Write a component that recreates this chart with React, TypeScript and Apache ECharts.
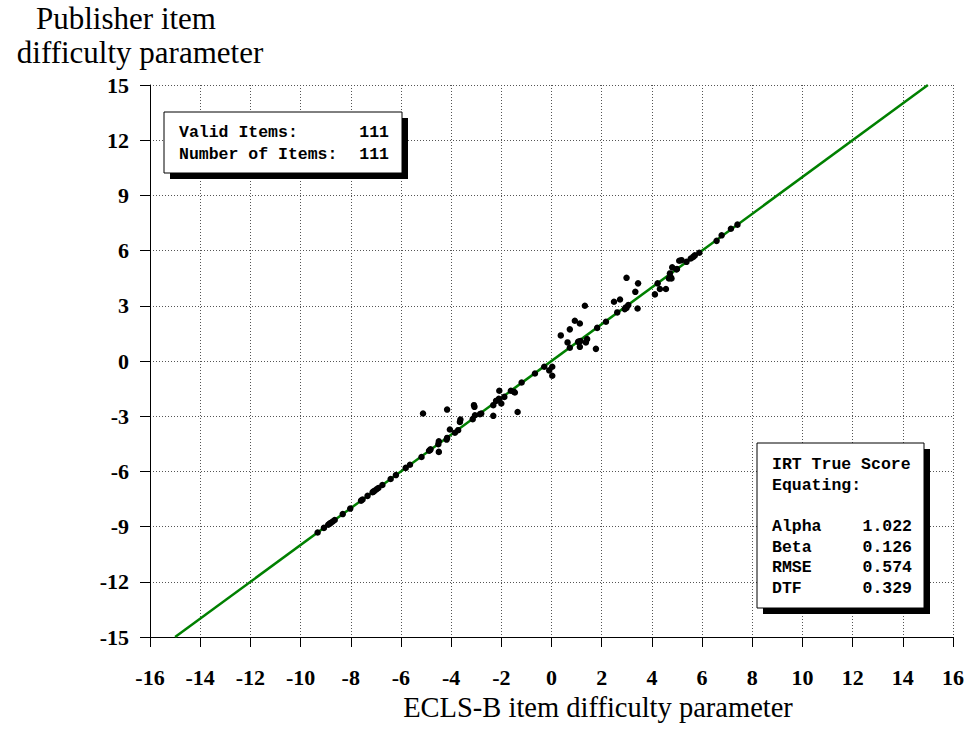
import React, { useEffect, useRef } from "react";
import * as echarts from "echarts";

const xTicks = { min: -16, max: 16, interval: 2 };
const yTicks = { min: -15, max: 15, interval: 3 };

const identityLine: [number, number][] = [
  [-15, -15],
  [15, 15],
];

const itemsLower: [number, number][] = [
  [-9.32, -9.32], [-9.07, -9.07], [-8.9, -8.9], [-8.85, -8.85], [-8.8, -8.8], [-8.72, -8.72],
  [-8.64, -8.64], [-8.32, -8.32], [-8.02, -8.02], [-7.59, -7.59], [-7.53, -7.53],
  [-7.33, -7.33], [-7.13, -7.13], [-7.1, -7.1], [-7.05, -7.05], [-6.97, -6.97], [-6.9, -6.9],
  [-6.74, -6.74], [-6.41, -6.41], [-6.2, -6.2], [-5.81, -5.81], [-5.64, -5.64],
  [-5.18, -5.22], [-4.88, -4.88], [-4.85, -4.85], [-4.82, -4.8], [-4.49, -4.94],
  [-4.51, -4.52], [-4.49, -4.36], [-4.18, -4.27], [-4.16, -4.18], [-4.05, -3.72],
  [-3.85, -3.9], [-3.72, -3.76], [-3.65, -3.31], [-3.63, -3.18], [-3.14, -3.16],
  [-3.05, -2.95], [-2.85, -2.89], [-2.8, -2.85], [-3.09, -2.4], [-3.07, -2.49],
  [-2.32, -2.98], [-2.32, -2.4], [-2.21, -2.17], [-2.1, -2.05], [-2.08, -2.09],
  [-2.08, -1.62], [-2.0, -2.31], [-1.88, -1.95], [-1.62, -1.62], [-1.5, -1.67],
  [-1.46, -1.71], [-1.35, -2.77], [-1.19, -1.17], [-0.66, -0.68], [-0.29, -0.31],
  [-0.09, -0.51], [0.03, -0.31], [0.03, -0.8], [-5.12, -2.85], [-4.16, -2.64],
];

const itemsUpper: [number, number][] = [
  [0.37, 1.39], [0.64, 1.01], [0.73, 1.72], [0.73, 0.72], [0.93, 2.19], [1.13, 2.04],
  [1.06, 1.04], [1.1, 1.06], [1.16, 1.09], [1.13, 0.77], [1.37, 1.01], [1.42, 1.19],
  [1.33, 3.0], [1.77, 0.66], [1.82, 1.8], [2.17, 2.13], [2.49, 3.22], [2.73, 3.34],
  [2.62, 2.64], [2.92, 2.82], [2.95, 2.9], [2.99, 2.89], [3.06, 3.04], [3.34, 3.76],
  [3.43, 2.85], [2.99, 4.52], [3.45, 4.22], [4.12, 3.62], [4.23, 4.22], [4.32, 3.91],
  [4.56, 3.91], [4.68, 4.49], [4.75, 4.55], [4.78, 4.49], [4.72, 4.76], [4.81, 5.09],
  [4.98, 4.98], [5.0, 5.0], [5.09, 5.45], [5.18, 5.48], [5.38, 5.39], [5.55, 5.57],
  [5.65, 5.66], [5.71, 5.74], [5.89, 5.88], [6.58, 6.53], [6.78, 6.83], [7.15, 7.19],
  [7.41, 7.41],
];

const box1Labels = ["Valid Items:", "Number of Items:"];
const box1Values = ["111", "111"];
const box2Title = ["IRT True Score", "Equating:"];
const box2Labels = ["Alpha", "Beta", "RMSE", "DTF"];
const box2Values = ["1.022", "0.126", "0.574", "0.329"];

const MONO = "'Liberation Mono', 'Courier New', monospace";
const SERIF = "'Liberation Serif', 'Times New Roman', serif";

function boxText(text: string, x: number, y: number, align: "left" | "right") {
  return {
    type: "text",
    x,
    y,
    z: 20,
    style: {
      text,
      fill: "#000",
      font: `bold 16.5px ${MONO}`,
      textAlign: align,
      textVerticalAlign: "middle",
    },
  };
}

export default function App() {
  const ref = useRef<HTMLDivElement>(null);
  useEffect(() => {
    if (!ref.current) return;
    const chart = echarts.init(ref.current, undefined, { renderer: "svg" });
    const graphics: any[] = [
      { type: "text", x: 126, y: 18, style: { text: "Publisher item", font: `31px ${SERIF}`, fill: "#000", textAlign: "center", textVerticalAlign: "middle" } },
      { type: "text", x: 140, y: 52, style: { text: "difficulty parameter", font: `31px ${SERIF}`, fill: "#000", textAlign: "center", textVerticalAlign: "middle" } },
      { type: "text", x: 598, y: 707, style: { text: "ECLS-B item difficulty parameter", font: `28.5px ${SERIF}`, fill: "#000", textAlign: "center", textVerticalAlign: "middle" } },
      // box 1
      { type: "rect", z: 18, shape: { x: 170, y: 118, width: 238, height: 61 }, style: { fill: "#000" } },
      { type: "rect", z: 19, shape: { x: 164, y: 112, width: 238, height: 61 }, style: { fill: "#fff", stroke: "#000", lineWidth: 1 } },
      // box 2
      { type: "rect", z: 18, shape: { x: 763, y: 449, width: 167, height: 165 }, style: { fill: "#000" } },
      { type: "rect", z: 19, shape: { x: 757, y: 443, width: 167, height: 165 }, style: { fill: "#fff", stroke: "#000", lineWidth: 1 } },
    ];
    const b1y = [132, 154];
    box1Labels.forEach((t, i) => graphics.push(boxText(t, 179, b1y[i], "left")));
    box1Values.forEach((t, i) => graphics.push(boxText(t, 389, b1y[i], "right")));
    const b2ty = [464, 485];
    box2Title.forEach((t, i) => graphics.push(boxText(t, 772, b2ty[i], "left")));
    const b2y = [526, 547, 567, 588];
    box2Labels.forEach((t, i) => graphics.push(boxText(t, 772, b2y[i], "left")));
    box2Values.forEach((t, i) => graphics.push(boxText(t, 912, b2y[i], "right")));

    const axisCommon = {
      axisLine: { show: true, onZero: false, lineStyle: { color: "#000", width: 1 } },
      axisTick: { show: true, inside: false, length: 10, lineStyle: { color: "#000" } },
      splitLine: { show: true, lineStyle: { color: "#555", type: [1, 2], width: 1 } },
    };
    chart.setOption({
      animation: false,
      backgroundColor: "#fff",
      grid: { left: 150, right: 18, top: 85, bottom: 102, containLabel: false },
      xAxis: {
        type: "value",
        ...xTicks,
        ...axisCommon,
        axisLabel: { margin: 29, fontFamily: SERIF, fontWeight: "bold", fontSize: 22, color: "#000" },
      },
      yAxis: {
        type: "value",
        ...yTicks,
        ...axisCommon,
        axisLabel: { margin: 21, fontFamily: SERIF, fontWeight: "bold", fontSize: 22, color: "#000" },
      },
      series: [
        {
          type: "line",
          data: identityLine,
          showSymbol: false,
          symbol: "none",
          lineStyle: { color: "#008000", width: 2.5 },
          z: 2,
        },
        {
          type: "scatter",
          data: [...itemsLower, ...itemsUpper],
          symbolSize: 6.5,
          itemStyle: { color: "#000", opacity: 1 },
          z: 3,
        },
      ],
      graphic: graphics,
    });
    return () => chart.dispose();
  }, []);
  return <div ref={ref} style={{ width: 971, height: 739, position: "absolute", left: 0, top: 0 }} />;
}
